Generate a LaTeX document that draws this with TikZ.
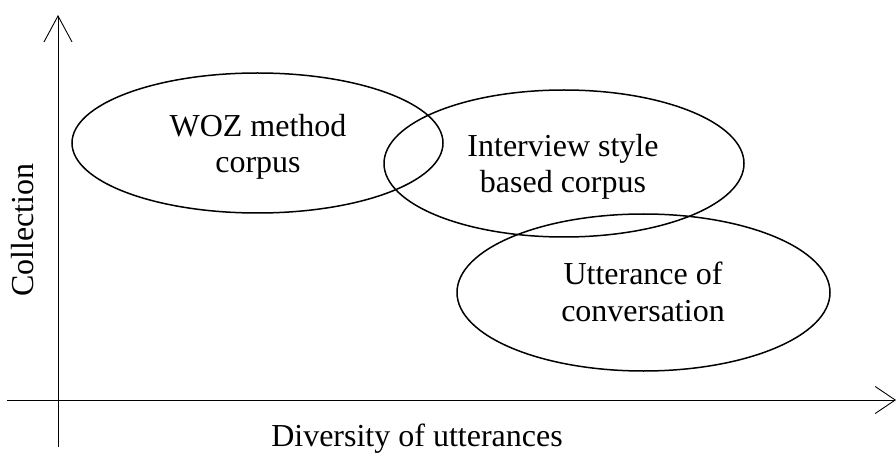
\documentclass[tikz,border=0pt]{standalone}
\usepackage{fontspec}
\setmainfont{Liberation Serif}
\usetikzlibrary{arrows.meta,shapes.geometric}
\begin{document}
\begin{tikzpicture}[x=1pt,y=-1pt,
  axis/.style={line width=0.9pt,draw=black},
  blob/.style={ellipse,draw=black,line width=1.5pt,inner sep=0pt},
  txt/.style={anchor=base,inner sep=0pt,font=\fontsize{32}{36}\selectfont}]
\useasboundingbox (0,0) rectangle (896,454);
% axes
\coordinate (ybot) at (58,447);
\coordinate (ytop) at (58,15);
\coordinate (xleft) at (7,400);
\coordinate (xright) at (896,400);
\draw[axis,-{Straight Barb[length=26pt,width=28pt]}] (ybot) -- (ytop);
\draw[axis,-{Straight Barb[length=20pt,width=27pt]}] (xleft) -- (xright);
\node[txt] (xlab) at (417,446) {Diversity of utterances};
\node[txt,rotate=90] (ylab) at (33,230) {Collection};
% ellipses
\node[blob,minimum width=371pt,minimum height=140pt] (woz) at (257.5,143) {};
\node[blob,minimum width=360pt,minimum height=147pt] (intv) at (564,163.5) {};
\node[blob,minimum width=373pt,minimum height=157pt] (utt) at (643.5,292.5) {};
% labels
\node[txt] (woz1) at (258,137) {WOZ method};
\node[txt] (woz2) at (258,173) {corpus};
\node[txt] (intv1) at (563,157) {Interview style};
\node[txt] (intv2) at (563,193) {based corpus};
\node[txt] (utt1) at (643,284) {Utterance of};
\node[txt] (utt2) at (643,321) {conversation};
\end{tikzpicture}
\end{document}
